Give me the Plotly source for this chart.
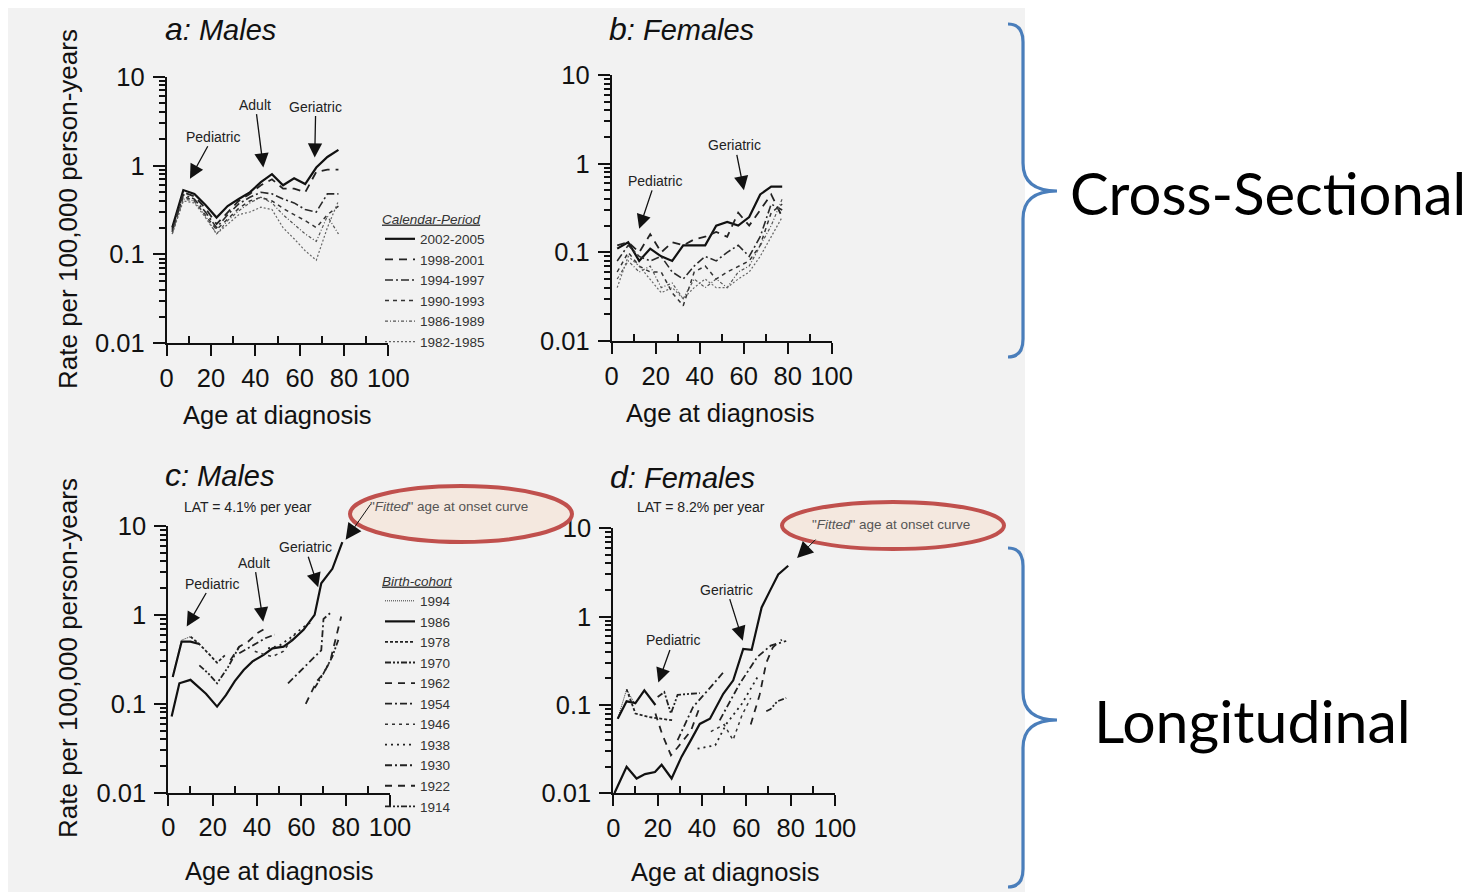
import numpy as np
import plotly.graph_objects as go

# The page places the figure 8px from the top-left corner, so the figure is
# 8px smaller than the window and reference pixel positions are offset by 8.
OFF = 8
W, H = 1478 - OFF, 892 - OFF
FONT = "Liberation Sans, Arial, sans-serif"

# ---------------- data ----------------
AGES5 = [2.5, 7.5, 12.5, 17.5, 22.5, 27.5, 32.5, 37.5, 42.5, 47.5, 52.5, 57.5, 62.5, 67.5, 72.5, 77.5]
PERIODS = ["2002-2005", "1998-2001", "1994-1997", "1990-1993", "1986-1989", "1982-1985"]

# a: Males, cross-sectional (rate per 100,000 person-years)
a_2002 = [0.2, 0.53, 0.48, 0.36, 0.26, 0.35, 0.42, 0.5, 0.65, 0.8, 0.6, 0.72, 0.62, 0.95, 1.25, 1.5]
a_1998 = [0.19, 0.5, 0.45, 0.33, 0.22, 0.3, 0.4, 0.48, 0.6, 0.7, 0.55, 0.55, 0.5, 0.85, 0.9, 0.9]
a_1994 = [0.18, 0.47, 0.42, 0.3, 0.2, 0.28, 0.37, 0.44, 0.5, 0.48, 0.42, 0.38, 0.32, 0.3, 0.48, 0.48]
a_1990 = [0.18, 0.45, 0.4, 0.28, 0.19, 0.25, 0.33, 0.4, 0.44, 0.4, 0.33, 0.28, 0.24, 0.2, 0.28, 0.35]
a_1986 = [0.17, 0.42, 0.4, 0.27, 0.17, 0.24, 0.31, 0.38, 0.44, 0.38, 0.28, 0.22, 0.17, 0.14, 0.27, 0.17]
a_1982 = [0.17, 0.4, 0.38, 0.26, 0.17, 0.22, 0.28, 0.3, 0.34, 0.32, 0.2, 0.15, 0.11, 0.086, 0.2, 0.4]

# b: Females, cross-sectional
b_2002 = [0.11, 0.13, 0.08, 0.11, 0.09, 0.08, 0.12, 0.12, 0.12, 0.2, 0.22, 0.2, 0.25, 0.45, 0.55, 0.55]
b_1998 = [0.12, 0.13, 0.1, 0.16, 0.1, 0.13, 0.12, 0.14, 0.15, 0.17, 0.15, 0.28, 0.2, 0.3, 0.45, 0.25]
b_1994 = [0.08, 0.12, 0.09, 0.08, 0.09, 0.06, 0.05, 0.07, 0.09, 0.08, 0.1, 0.12, 0.09, 0.15, 0.35, 0.3]
b_1990 = [0.06, 0.1, 0.07, 0.06, 0.06, 0.035, 0.025, 0.06, 0.07, 0.05, 0.06, 0.07, 0.08, 0.12, 0.28, 0.35]
b_1986 = [0.05, 0.08, 0.06, 0.07, 0.04, 0.045, 0.03, 0.05, 0.04, 0.05, 0.04, 0.06, 0.07, 0.12, 0.2, 0.4]
b_1982 = [0.04, 0.09, 0.07, 0.05, 0.035, 0.04, 0.03, 0.04, 0.05, 0.04, 0.04, 0.05, 0.06, 0.09, 0.15, 0.25]

# c: Males, longitudinal (birth cohorts)
COHORTS = ["1994", "1986", "1978", "1970", "1962", "1954", "1946", "1938", "1930", "1922", "1914"]
c_ages = {
    "1994": [2, 6, 10],
    "1986": [2, 6, 10, 14],
    "1978": [10, 14, 18, 22, 26],
    "1970": [14, 18, 22, 27, 32],
    "1962": [28, 32, 36, 40, 44],
    "1954": [32, 36, 40, 44, 48],
    "1946": [39, 43, 47, 52, 57],
    "1938": [45, 50, 55, 60, 65],
    "1930": [54, 60, 66, 69, 70, 74],
    "1922": [62, 67, 70, 73, 75, 78],
    "1914": [66, 70, 74, 77],
}
c_rates = {
    "1994": [0.2, 0.52, 0.57],
    "1986": [0.2, 0.5, 0.5, 0.47],
    "1978": [0.57, 0.47, 0.37, 0.29, 0.36],
    "1970": [0.27, 0.22, 0.17, 0.26, 0.44],
    "1962": [0.31, 0.44, 0.5, 0.62, 0.71],
    "1954": [0.37, 0.42, 0.48, 0.55, 0.6],
    "1946": [0.39, 0.36, 0.34, 0.39, 0.6],
    "1938": [0.42, 0.45, 0.55, 0.7, 0.85],
    "1930": [0.17, 0.24, 0.33, 0.4, 0.9, 1.1],
    "1922": [0.1, 0.18, 0.22, 0.3, 0.48, 0.96],
    "1914": [0.15, 0.22, 0.34, 0.55],
}
c_fit_ages = [1.5, 5, 10, 17, 22, 26, 30, 34, 38, 43, 47, 52, 56, 61, 66, 69, 74, 78.5]
c_fit_rates = [0.072, 0.17, 0.186, 0.13, 0.093, 0.125, 0.18, 0.24, 0.3, 0.355, 0.42, 0.44, 0.52, 0.68, 1.0, 2.27, 3.3, 6.6]

# d: Females, longitudinal (birth cohorts)
d_ages = {
    "1994": [2, 6, 10],
    "1986": [2, 6, 10, 14, 19],
    "1978": [6, 10, 16, 21, 27],
    "1970": [20, 23, 26, 29, 35, 39],
    "1962": [19, 22, 26, 29, 35, 39],
    "1954": [29, 36, 44, 50],
    "1946": [44, 50, 54, 58, 62],
    "1938": [38, 46, 51, 58, 65],
    "1930": [48, 57, 65, 71, 78],
    "1922": [62, 64, 66, 69, 72, 76],
    "1914": [69, 71, 74, 78],
}
d_rates = {
    "1994": [0.07, 0.15, 0.1],
    "1986": [0.07, 0.11, 0.105, 0.146, 0.1],
    "1978": [0.15, 0.08, 0.073, 0.07, 0.067],
    "1970": [0.123, 0.14, 0.08, 0.13, 0.134, 0.136],
    "1962": [0.08, 0.047, 0.027, 0.033, 0.051, 0.095],
    "1954": [0.04, 0.095, 0.16, 0.24],
    "1946": [0.05, 0.06, 0.04, 0.076, 0.12],
    "1938": [0.032, 0.035, 0.061, 0.103, 0.206],
    "1930": [0.067, 0.174, 0.35, 0.47, 0.53],
    "1922": [0.06, 0.09, 0.13, 0.3, 0.45, 0.55],
    "1914": [0.085, 0.09, 0.11, 0.12],
}
d_fit_ages = [0.5, 2.5, 6, 10.5, 14.3, 18.8, 21.8, 26.3, 30.8, 35, 39, 43.6, 49.6, 54.1, 58.6, 62.4, 66.9, 70.7, 74.4, 78.9]
d_fit_rates = [0.01, 0.013, 0.02, 0.0147, 0.0165, 0.0174, 0.021, 0.0147, 0.026, 0.04, 0.061, 0.07, 0.134, 0.19, 0.43, 0.42, 1.27, 1.97, 3.0, 3.77]

# ---------------- styles ----------------
period_style = {
    "2002-2005": dict(dash="solid", width=2.2, color="#111"),
    "1998-2001": dict(dash="8px,6px", width=1.8, color="#222"),
    "1994-1997": dict(dash="8px,3px,2px,3px", width=1.6, color="#2a2a2a"),
    "1990-1993": dict(dash="4px,4px", width=1.5, color="#333"),
    "1986-1989": dict(dash="3px,2px,1px,2px", width=1.2, color="#555"),
    "1982-1985": dict(dash="2px,2px", width=1.2, color="#666"),
}
cohort_style = {
    "1994": dict(dash="1px,1px", width=1.0, color="#333"),
    "1986": dict(dash="solid", width=2.2, color="#111"),
    "1978": dict(dash="3px,2px", width=1.8, color="#222"),
    "1970": dict(dash="6px,2px,2px,2px,2px,2px", width=1.8, color="#222"),
    "1962": dict(dash="7px,6px", width=1.8, color="#222"),
    "1954": dict(dash="7px,3px,2px,3px", width=1.8, color="#222"),
    "1946": dict(dash="3px,4px", width=1.5, color="#333"),
    "1938": dict(dash="2px,4px", width=1.8, color="#222"),
    "1930": dict(dash="7px,3px,2px,3px", width=1.8, color="#222"),
    "1922": dict(dash="7px,6px", width=1.8, color="#222"),
    "1914": dict(dash="6px,2px,2px,2px,2px,2px", width=1.8, color="#222"),
}

def px(x):
    return (x - OFF) / W

def py(y):
    return 1 - (y - OFF) / H

fig = go.Figure()

a_series = dict(zip(PERIODS, [a_2002, a_1998, a_1994, a_1990, a_1986, a_1982]))
b_series = dict(zip(PERIODS, [b_2002, b_1998, b_1994, b_1990, b_1986, b_1982]))

for name in PERIODS:
    fig.add_trace(go.Scatter(x=AGES5, y=a_series[name], mode="lines", name=name,
                             line=period_style[name], xaxis="x", yaxis="y", legend="legend"))
for name in PERIODS:
    fig.add_trace(go.Scatter(x=AGES5, y=b_series[name], mode="lines", name=name,
                             line=period_style[name], xaxis="x2", yaxis="y2", showlegend=False))

fig.add_trace(go.Scatter(x=c_fit_ages, y=c_fit_rates, mode="lines", name="fitted",
                         line=dict(color="#111", width=2.2), xaxis="x3", yaxis="y3",
                         showlegend=False))
for name in COHORTS:
    fig.add_trace(go.Scatter(x=c_ages[name], y=c_rates[name], mode="lines", name=name,
                             line=cohort_style[name], xaxis="x3", yaxis="y3",
                             legend="legend2"))
fig.add_trace(go.Scatter(x=d_fit_ages, y=d_fit_rates, mode="lines", name="fitted",
                         line=dict(color="#111", width=2.2), xaxis="x4", yaxis="y4",
                         showlegend=False))
for name in COHORTS:
    fig.add_trace(go.Scatter(x=d_ages[name], y=d_rates[name], mode="lines", name=name,
                             line=cohort_style[name], xaxis="x4", yaxis="y4",
                             showlegend=False))

# ---------------- axes ----------------
minor_vals = [m * 10.0 ** e for e in (-2, -1, 0) for m in range(2, 10)]
TICKSIZE = 25.5

def xax(x0, x1, anchor):
    return dict(domain=[px(x0), px(x1)], range=[0, 100], anchor=anchor,
                showline=True, linecolor="#111", linewidth=2, showgrid=False,
                zeroline=False, tickmode="array", tickvals=[0, 20, 40, 60, 80, 100],
                ticks="outside", ticklen=11, tickwidth=2, tickcolor="#111",
                ticklabelstandoff=0,
                minor=dict(tickvals=[10, 30, 50, 70, 90], ticks="inside", ticklen=7,
                           tickwidth=2, tickcolor="#111", showgrid=False),
                tickfont=dict(family=FONT, size=TICKSIZE, color="#111"), fixedrange=True)

def yax(y0, y1, anchor):
    return dict(domain=[py(y1), py(y0)], type="log", range=[-2, 1], anchor=anchor,
                showline=True, linecolor="#111", linewidth=2, showgrid=False,
                zeroline=False, tickmode="array", tickvals=[0.01, 0.1, 1, 10],
                ticktext=["0.01", "0.1", "1", "10"],
                ticks="outside", ticklen=12, tickwidth=2, tickcolor="#111",
                ticklabelstandoff=3,
                minor=dict(tickvals=minor_vals, ticks="outside", ticklen=6,
                           tickwidth=1.5, tickcolor="#111", showgrid=False),
                tickfont=dict(family=FONT, size=TICKSIZE, color="#111"), fixedrange=True)

fig.update_layout(
    xaxis=xax(166.7, 388.3, "y"), yaxis=yax(76.7, 343.3, "x"),
    xaxis2=xax(611.7, 831.7, "y2"), yaxis2=yax(75, 341, "x2"),
    xaxis3=xax(168.3, 390, "y3"), yaxis3=yax(526, 792.7, "x3"),
    xaxis4=xax(613.3, 835, "y4"), yaxis4=yax(528.3, 793.3, "x4"),
)

# ---------------- decorations ----------------
shapes = []
shapes.append(dict(type="rect", xref="paper", yref="paper", x0=px(8), x1=px(1025),
                   y0=py(892), y1=py(8), fillcolor="#f2f2f2", line=dict(width=0),
                   layer="below"))

def brace(top, tip, bottom, xl=1008, xv=1023, xt=1057):
    pts = (f"M {px(xl)},{py(top)} Q {px(xv)},{py(top)} {px(xv)},{py(top + 18)} "
           f"L {px(xv)},{py(tip - 28)} Q {px(xv)},{py(tip)} {px(xt)},{py(tip)} "
           f"Q {px(xv)},{py(tip)} {px(xv)},{py(tip + 28)} "
           f"L {px(xv)},{py(bottom - 18)} Q {px(xv)},{py(bottom)} {px(xl)},{py(bottom)}")
    return dict(type="path", xref="paper", yref="paper", path=pts,
                line=dict(color="#4a7ebb", width=3.2), layer="above")

shapes.append(brace(24, 191, 357))
shapes.append(brace(548, 720, 887))
shapes.append(dict(type="circle", xref="paper", yref="paper", x0=px(350), x1=px(572),
                   y0=py(542), y1=py(486), fillcolor="#f4e8df",
                   line=dict(color="#c0504d", width=4), layer="above"))
shapes.append(dict(type="circle", xref="paper", yref="paper", x0=px(782), x1=px(1004),
                   y0=py(549), y1=py(502), fillcolor="#f4e8df",
                   line=dict(color="#c0504d", width=4), layer="above"))

ann = []

def ptext(x, y, text, size, anchor="center", color="#111", angle=0, family=FONT):
    ann.append(dict(xref="paper", yref="paper", x=px(x), y=py(y), text=text,
                    showarrow=False, xanchor=anchor, yanchor="middle", textangle=angle,
                    font=dict(family=family, size=size, color=color)))

# panel titles
for (x, y, letter, word) in [(163, 29, "a", "Males"), (607, 29, "b", "Females"),
                             (163, 475, "c", "Males"), (608, 477, "d", "Females")]:
    ptext(x, y, f"<i><span style='font-size:32px'>{letter}</span>: {word}</i>", 29, anchor="left")

# axis titles
ptext(68, 209, "Rate per 100,000 person-years", 26, angle=-90)
ptext(68, 658, "Rate per 100,000 person-years", 26, angle=-90)
ptext(277, 415, "Age at diagnosis", 25.5)
ptext(720, 413, "Age at diagnosis", 25.5)
ptext(279, 871, "Age at diagnosis", 25.5)
ptext(725, 872, "Age at diagnosis", 25.5)

# LAT texts
ptext(248, 507, "LAT = 4.1% per year", 14, color="#222")
ptext(701, 507, "LAT = 8.2% per year", 14, color="#222")

# fitted labels
ptext(449, 506, "\"<i>Fitted</i>\" age at onset curve", 13.5, color="#555")
ptext(891, 524, "\"<i>Fitted</i>\" age at onset curve", 13.5, color="#555")

# big labels
ptext(1268, 192, "Cross-Sectional", 58, color="#000", family="Lato, Noto Sans, sans-serif")
ptext(1252, 720, "Longitudinal", 59, color="#000", family="Lato, Noto Sans, sans-serif")

def arrow(xa, ya, age, rate, dx, dy, text, size=14, width=1.3, asize=2.2, color="#222"):
    ann.append(dict(xref=xa, yref=ya, x=age, y=np.log10(rate), ax=dx, ay=dy,
                    text=text, showarrow=True, arrowhead=2, arrowsize=asize,
                    arrowwidth=width, arrowcolor="#111", standoff=0,
                    font=dict(family=FONT, size=size, color=color)))

arrow("x", "y", 10.5, 0.71, 23, -42, "Pediatric")
arrow("x", "y", 43.6, 0.95, -8, -63, "Adult")
arrow("x", "y", 66.8, 1.23, 1, -51, "Geriatric")
arrow("x2", "y2", 12.5, 0.184, 16, -48, "Pediatric")
arrow("x2", "y2", 60.1, 0.5, -9, -45, "Geriatric")
arrow("x3", "y3", 8.3, 0.74, 25, -43, "Pediatric")
arrow("x3", "y3", 42.8, 0.84, -9, -59, "Adult")
arrow("x3", "y3", 67.6, 2.05, -13, -40, "Geriatric")
arrow("x4", "y4", 20.3, 0.18, 15, -42, "Pediatric")
arrow("x4", "y4", 58.4, 0.535, -16, -51, "Geriatric")
# fitted curve pointers
arrow("x3", "y3", 80, 7.0, 26, -37, "", width=1.0, asize=3.2)
arrow("x4", "y4", 82.9, 4.6, 20, -20, "", width=1.0, asize=3.2)

LEGFONT = 13.5
fig.update_layout(
    width=W, height=H, margin=dict(l=0, r=0, t=0, b=0, autoexpand=False),
    paper_bgcolor="white", plot_bgcolor="rgba(0,0,0,0)",
    shapes=shapes, annotations=ann,
    legend=dict(x=px(380), y=py(206), xanchor="left", yanchor="top",
                bgcolor="rgba(0,0,0,0)", tracegroupgap=0,
                font=dict(family=FONT, size=LEGFONT, color="#333"),
                title=dict(text="<i><u>Calendar-Period</u></i>",
                           font=dict(family=FONT, size=LEGFONT, color="#333"))),
    legend2=dict(x=px(380), y=py(568), xanchor="left", yanchor="top",
                 bgcolor="rgba(0,0,0,0)", tracegroupgap=0,
                 font=dict(family=FONT, size=LEGFONT, color="#333"),
                 title=dict(text="<i><u>Birth-cohort</u></i>",
                            font=dict(family=FONT, size=LEGFONT, color="#333"))),
    hovermode=False,
)

fig.write_html("out.html")
